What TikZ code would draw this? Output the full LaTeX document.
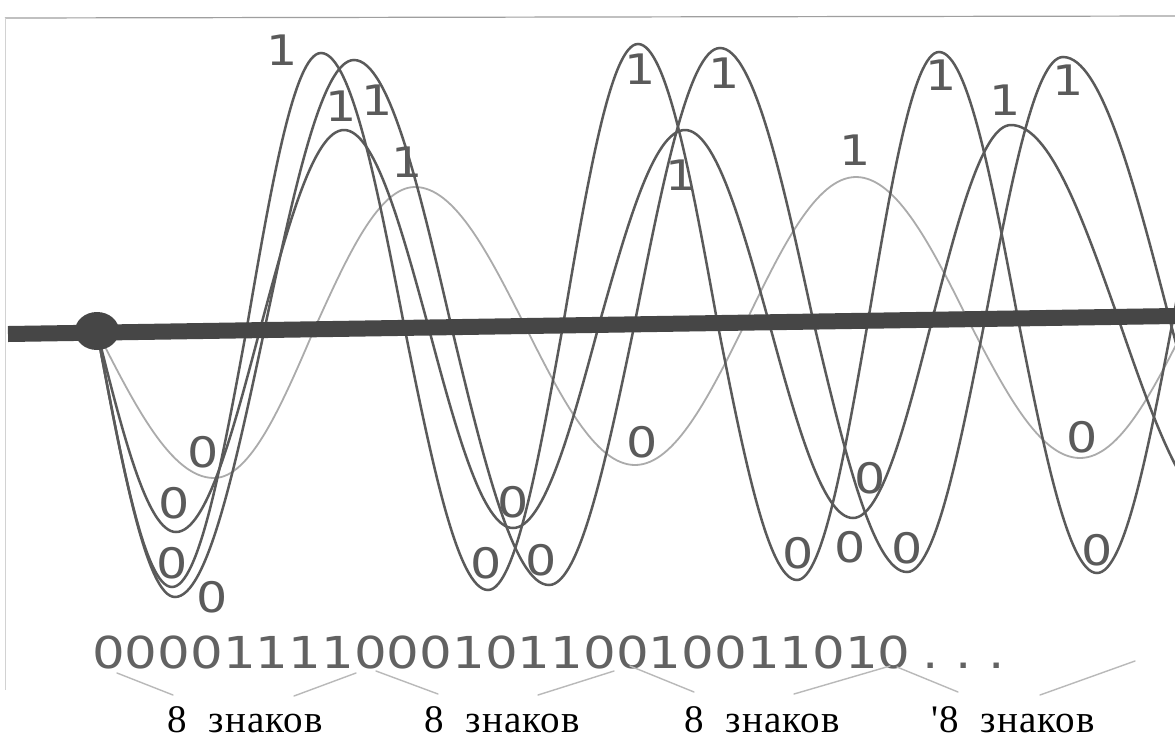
\documentclass[tikz,border=0pt]{standalone}
\usepackage{fontspec}
\usepackage{tikz}
\usepackage{xcolor}
\newfontfamily\bitfont[FakeStretch=1.17]{DejaVu Sans}
\newfontfamily\cyrfont[LetterSpace=3]{Liberation Serif}
\definecolor{inkdark}{HTML}{5A5A5A}
\definecolor{inklight}{HTML}{ABABAB}
\definecolor{inkaxis}{HTML}{464646}
\definecolor{inkbits}{HTML}{626262}

\begin{document}
\begin{tikzpicture}[x=1pt,y=-1pt,every node/.style={inner sep=0pt},
  wave/.style={draw=inkdark,line width=2.5pt},
  softwave/.style={draw=inklight,line width=1.8pt},
  bit/.style={font=\bitfont\fontsize{42}{42}\selectfont,text=inkdark},
  bracestroke/.style={draw=gray!55,line width=1.4pt,line cap=round},
  groupnote/.style={font=\cyrfont\fontsize{39}{39}\selectfont,anchor=base}]
\useasboundingbox (0,0) rectangle (1175,740);
\fill[white] (0,0) rectangle (1175,740);
\draw[gray!75,line width=1.2pt] (5,18) -- (1175,16);
\draw[gray!35,line width=1pt] (5,18) -- (5,690);
\coordinate (src) at (97,331);
\begin{scope}
\clip (0,0) rectangle (1175,740);
\path[softwave] (src) sin (214,478) cos (314.5,328.7) sin (415,187) cos (525,325.8) sin (635,465) cos (745.5,322.8) sin (856,177) cos (968,319.8) sin (1080,458) cos (1190,316.8) sin (1300,170);
\path[wave] (src) sin (176,532) cos (260,329.5) sin (344,130) cos (428.5,327.2) sin (513,528) cos (599,324.8) sin (685,130) cos (769,322.5) sin (853,518) cos (932,320.3) sin (1011,125) cos (1118,317.8) sin (1225,515);
\path[wave] (src) sin (172,587) cos (246.5,329.6) sin (321,53) cos (404.5,327.5) sin (488,590) cos (563,325.3) sin (638,44) cos (717.5,323.2) sin (797,580) cos (868,321.2) sin (939,52) cos (1018,319.1) sin (1097,573) cos (1173.5,317) sin (1250,50);
\path[wave] (src) sin (175,597) cos (264.5,329.4) sin (354,60) cos (451.5,326.9) sin (549,585) cos (634.5,324.4) sin (720,48) cos (813.5,321.9) sin (907,572) cos (985,319.6) sin (1063,57) cos (1169,317.1) sin (1275,570);
\end{scope}
\draw[inkaxis,line width=16pt] (8,334) -- (1175,316);
\fill[inkaxis] (src) ellipse [x radius=22pt,y radius=19pt];
\node[bit] (zA1) at (203,452) {0};
\node[bit] (zB1) at (174,503) {0};
\node[bit] (zC1) at (172,563) {0};
\node[bit] (zD1) at (212,597) {0};
\node[bit] (zC2) at (486,563) {0};
\node[bit] (zD2) at (541,560) {0};
\node[bit] (zB2) at (513,502) {0};
\node[bit] (zA2) at (642,442) {0};
\node[bit] (zC3) at (798,553) {0};
\node[bit] (zX3) at (850,547) {0};
\node[bit] (zD3) at (907,548) {0};
\node[bit] (zB3) at (870,478) {0};
\node[bit] (zA3) at (1082,437) {0};
\node[bit] (zC4) at (1097,550) {0};
\node[bit] (oC1) at (282,50) {1};
\node[bit] (oB1) at (341,106) {1};
\node[bit] (oD1) at (377,100) {1};
\node[bit] (oA1) at (407,162) {1};
\node[bit] (oC2) at (640,69) {1};
\node[bit] (oD2) at (724,73) {1};
\node[bit] (oB2) at (681,175) {1};
\node[bit] (oA2) at (855,150) {1};
\node[bit] (oC3) at (941,75) {1};
\node[bit] (oB3) at (1005,100) {1};
\node[bit] (oD3) at (1068,80) {1};
\node[font=\bitfont\fontsize{44}{44}\selectfont,text=inkbits,anchor=base west] (bits) at (92,668) {0000111100010110010011010\kern12pt.\kern16pt.\kern17pt.};
\draw[bracestroke] (117,673) -- (173,695);
\draw[bracestroke] (294,696) -- (356,673);
\draw[bracestroke] (376,671) -- (438,694);
\draw[bracestroke] (538,695) -- (614,671);
\draw[bracestroke] (630,666) -- (694,692);
\draw[bracestroke] (794,694) -- (890,666);
\draw[bracestroke] (897,667) -- (958,692);
\draw[bracestroke] (1040,695) -- (1135,661);
\node[groupnote] (grpA) at (245,732) {8\ \ знаков};
\node[groupnote] (grpB) at (502,732) {8\ \ знаков};
\node[groupnote] (grpC) at (762,732) {8\ \ знаков};
\node[groupnote] (grpD) at (1013,732) {'8\ \ знаков};
\end{tikzpicture}
\end{document}
